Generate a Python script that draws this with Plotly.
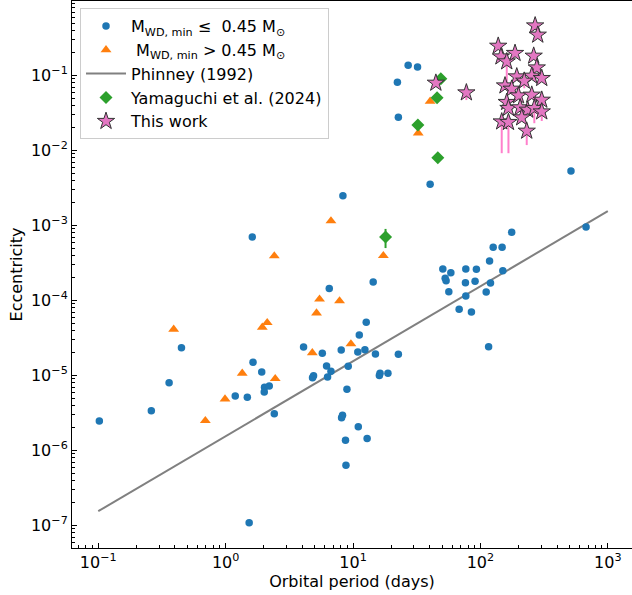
import plotly.graph_objects as go

# ---- data ----
low_P = [0.102, 0.261, 0.360, 0.450, 1.19, 1.48, 1.64, 1.92, 2.02, 2.20, 2.01, 2.41, 1.53, 1.62,
         8.33, 14.4, 6.51, 12.7, 11.2, 4.09, 5.74, 8.08, 10.9, 12.4, 15.0, 22.7, 6.20, 6.71, 9.17,
         4.90, 4.81, 6.31, 16.3, 18.8, 16.1, 8.96, 8.27, 8.13, 11.0, 8.73, 12.9, 8.80,
         514, 40.3, 176, 126, 148, 118, 50.7, 76.8, 93.0, 58.6, 150, 52.9, 53.8, 76.3, 90.8, 120,
         56.5, 76.8, 111, 68.1, 85.0, 675, 116, 27.1, 32.1, 22.3, 22.7]
low_e = [2.47e-6, 3.40e-6, 8.02e-6, 2.35e-5, 5.33e-6, 5.12e-6, 1.50e-5, 1.11e-5, 6.97e-6, 7.24e-6,
         6.03e-6, 3.10e-6, 1.09e-7, 7.03e-4,
         2.49e-3, 1.77e-4, 1.45e-4, 5.12e-5, 3.47e-5, 2.40e-5, 1.98e-5, 2.19e-5, 2.06e-5, 2.21e-5,
         1.93e-5, 1.92e-5, 1.34e-5, 1.14e-5, 1.33e-5,
         9.94e-6, 9.35e-6, 9.55e-6, 1.07e-5, 1.07e-5, 1.00e-5, 6.55e-6, 2.95e-6, 2.74e-6, 2.08e-6,
         1.37e-6, 1.44e-6, 6.35e-7,
         5.33e-3, 3.54e-3, 8.11e-4, 5.12e-4, 5.12e-4, 3.36e-4, 2.63e-4, 2.63e-4, 2.61e-4, 2.35e-4,
         2.50e-4, 1.98e-4, 1.84e-4, 1.73e-4, 1.80e-4, 1.71e-4,
         1.31e-4, 1.15e-4, 1.30e-4, 7.63e-5, 7.03e-5, 9.55e-4, 2.42e-5, 0.137, 0.130, 0.0812, 0.0277]

high_P = [0.391, 0.693, 0.989, 1.35, 1.94, 2.12, 2.45, 2.41, 6.71, 5.46, 7.84, 5.17, 4.79, 9.63,
          17.3, 40.3, 32.5]
high_e = [4.13e-5, 2.50e-6, 4.86e-6, 1.07e-5, 4.39e-5, 5.06e-5, 9.06e-6, 3.92e-4, 1.15e-3,
          1.04e-4, 9.85e-5, 6.81e-5, 2.01e-5, 2.63e-5, 3.96e-4, 0.0453, 0.0171]

phinney_P = [0.1, 1000]
phinney_e = [1.55e-7, 1.55e-3]

yam_P = [48.9, 45.7, 32.3, 46.3, 18.0]
yam_e = [0.0906, 0.0506, 0.0219, 8.02e-3, 7.0e-4]
yam_err = [0, 0, 0, 0, 2.0e-4]

tw_P = [269, 282, 138, 145, 161, 187, 262, 277, 253, 303, 193, 221, 156, 176, 199, 253, 303,
        161, 166, 205, 235, 265, 303, 211, 147, 166, 231, 77.6, 44.7]
tw_e = [0.461, 0.347, 0.247, 0.178, 0.153, 0.198, 0.182, 0.127, 0.0985, 0.0918, 0.0964, 0.0845,
        0.0731, 0.0661, 0.0538, 0.055, 0.0471, 0.044, 0.0366, 0.0373, 0.0347, 0.0366, 0.0329,
        0.0274, 0.0242, 0.0238, 0.0182, 0.0590, 0.0794]
tw_err_lo = [0, 0, 0, 0, 0.089, 0, 0, 0, 0, 0, 0, 0.017, 0, 0, 0, 0, 0,
             0, 0, 0, 0, 0.0135, 0.0082, 0, 0.015, 0.0146, 0.0064, 0.012, 0]

x_tick_vals = [0.1, 1, 10, 100, 1000]
x_tick_text = ["10<sup>−1</sup>", "10<sup>0</sup>", "10<sup>1</sup>", "10<sup>2</sup>", "10<sup>3</sup>"]
y_tick_vals = [1e-7, 1e-6, 1e-5, 1e-4, 1e-3, 1e-2, 1e-1]
y_tick_text = ["10<sup>−7</sup>", "10<sup>−6</sup>", "10<sup>−5</sup>", "10<sup>−4</sup>",
               "10<sup>−3</sup>", "10<sup>−2</sup>", "10<sup>−1</sup>"]

x_minor = [m * 10.0 ** k for k in range(-2, 4) for m in range(2, 10)]
y_minor = [m * 10.0 ** k for k in range(-8, 1) for m in range(2, 10)]

FONT = "DejaVu Sans"
FS = 16

fig = go.Figure()

fig.add_trace(go.Scatter(
    x=phinney_P, y=phinney_e, mode="lines", name="Phinney (1992)",
    line=dict(color="#808080", width=2), legendrank=3))

fig.add_trace(go.Scatter(
    x=low_P, y=low_e, mode="markers",
    name="M<sub>WD, min</sub> ≤  0.45 M<sub>⊙</sub>",
    marker=dict(symbol="circle", size=7.5, color="#1f77b4"), legendrank=1))

fig.add_trace(go.Scatter(
    x=high_P, y=high_e, mode="markers",
    name=" M<sub>WD, min</sub> > 0.45 M<sub>⊙</sub>",
    marker=dict(symbol="triangle-up", size=9.5, color="#ff7f0e"), legendrank=2))

fig.add_trace(go.Scatter(
    x=yam_P, y=yam_e, mode="markers", name="Yamaguchi et al. (2024)",
    marker=dict(symbol="diamond", size=10, color="#2ca02c"),
    error_y=dict(type="data", array=yam_err, color="#2ca02c", thickness=2, width=0),
    legendrank=4))

fig.add_trace(go.Scatter(
    x=tw_P, y=tw_e, mode="markers", name="This work",
    marker=dict(symbol="star", size=13, color="#e377c2", line=dict(color="#333333", width=1)),
    error_y=dict(type="data", symmetric=False, array=[0] * len(tw_e), arrayminus=tw_err_lo,
                 color="#ff80cc", thickness=2, width=0),
    legendrank=5))

axis_common = dict(
    type="log", showgrid=False, zeroline=False, showline=True, linecolor="black", linewidth=1,
    ticks="inside", ticklen=5, tickwidth=1, tickcolor="black", automargin=False,
    tickfont=dict(family=FONT, size=FS, color="black"),
)

fig.update_xaxes(
    **axis_common, range=[-1.206, 3.190], mirror=True,
    tickvals=x_tick_vals, ticktext=x_tick_text,
    minor=dict(tickvals=x_minor, ticks="inside", ticklen=3, tickwidth=1, tickcolor="black"),
    title=dict(text="Orbital period (days)", font=dict(family=FONT, size=FS, color="black"),
               standoff=4),
)
fig.update_yaxes(
    **axis_common, range=[-7.30, -0.007], mirror=False,
    tickvals=y_tick_vals, ticktext=y_tick_text,
    minor=dict(tickvals=y_minor, ticks="inside", ticklen=3, tickwidth=1, tickcolor="black"),
    title=dict(text="Eccentricity", font=dict(family=FONT, size=FS, color="black"),
               standoff=4),
)

fig.update_layout(
    width=632, height=595, autosize=False,
    margin=dict(l=72, r=0, t=1, b=47),
    paper_bgcolor="white", plot_bgcolor="white",
    font=dict(family=FONT, size=FS, color="black"),
    legend=dict(
        x=0.0143, y=0.987, xanchor="left", yanchor="top",
        bgcolor="rgba(255,255,255,0.85)", bordercolor="#cccccc", borderwidth=1,
        font=dict(family=FONT, size=FS, color="black"),
        itemwidth=40,
    ),
)

fig.write_html(
    "out.html",
    config={"displayModeBar": False, "staticPlot": True},
    post_script="document.body.style.margin='0';document.body.style.overflow='hidden';",
)
